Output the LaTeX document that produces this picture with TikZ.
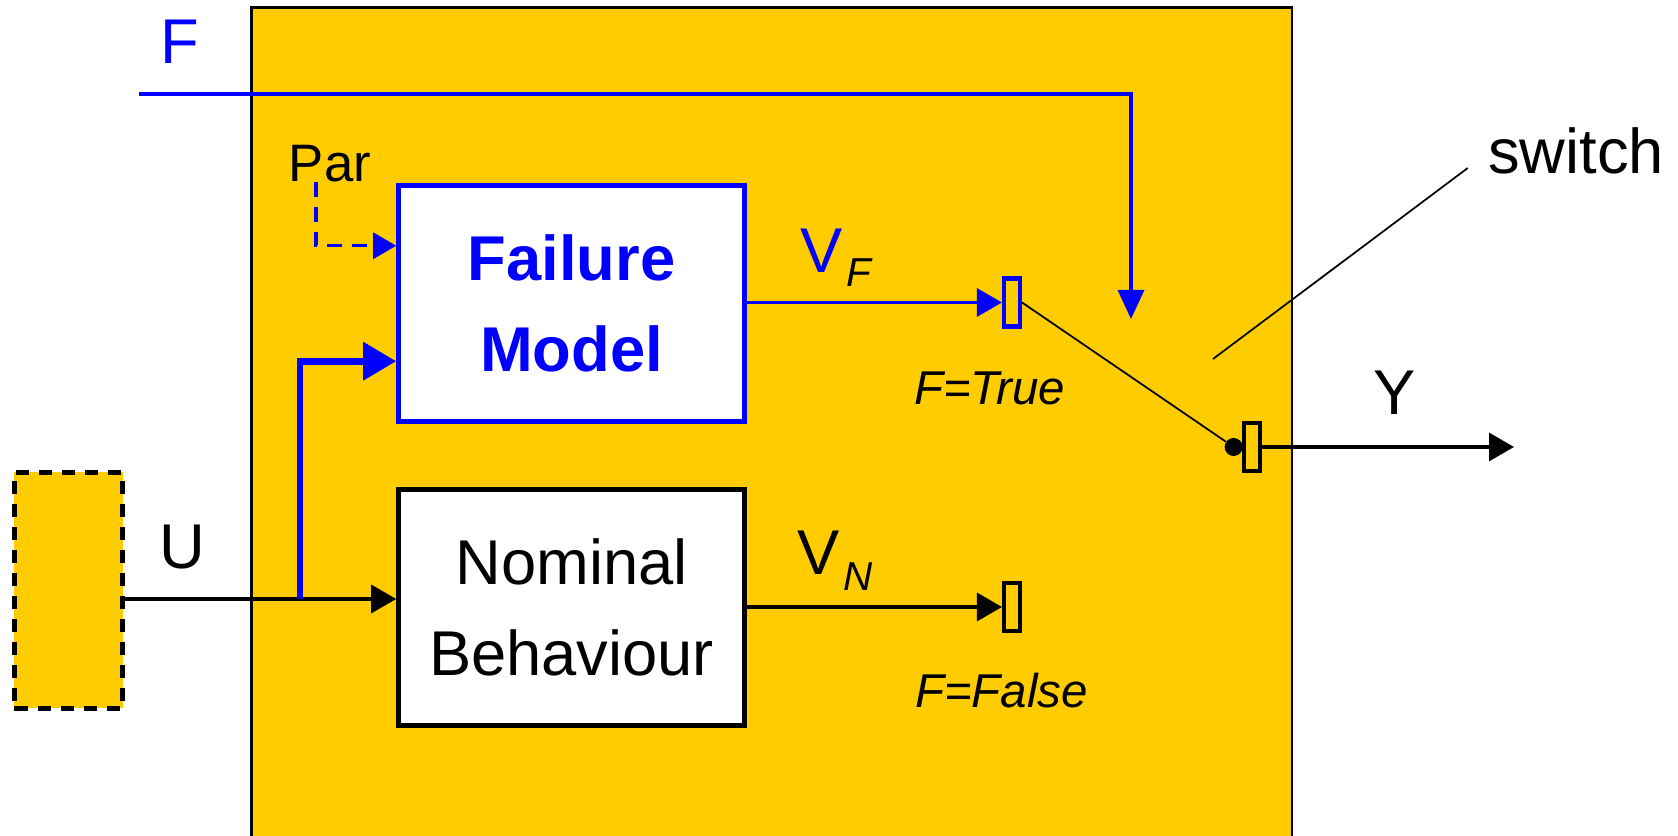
\documentclass[tikz,border=0pt]{standalone}
\usepackage{fontspec}
\setmainfont{Liberation Sans}
\usetikzlibrary{arrows.meta, positioning, calc}
\definecolor{sysyellow}{HTML}{FFCC00}
\definecolor{fblue}{HTML}{0000FF}

\begin{document}
\begin{tikzpicture}[
  >={Triangle[length=5mm, width=5.6mm]},
  block/.style={draw=#1, line width=2.6pt, fill=white, minimum width=69.2mm,
    minimum height=47.2mm, align=center, inner sep=0pt,
    font=\fontsize{36}{52}\selectfont},
  port/.style={draw=#1, line width=2.3pt, fill=sysyellow, minimum width=3.2mm,
    minimum height=9.6mm, inner sep=0pt},
  arr/.style={->, line width=1.9pt, draw=#1},
  lbl/.style={font=\fontsize{36}{40}\selectfont, anchor=base, inner sep=0pt},
  cond/.style={font=\fontsize{27}{30}\selectfont\itshape, anchor=base, inner sep=0pt},
]

% Page frame
\useasboundingbox (0,0) rectangle (33.56,16.72);

% System block (runs off the bottom)
\filldraw[fill=sysyellow, draw=black, line width=1.3pt]
  (5.03,0) |- (25.84,16.57) -- (25.84,0);

% === Source block (dashed) ===
\node[draw, line width=2.3pt, dash pattern=on 7.4pt off 5.7pt, fill=sysyellow,
  minimum width=21.6mm, minimum height=47.2mm, inner sep=0pt] (src) at (1.37,4.91) {};

% === Failure model and nominal behaviour ===
\node[block=fblue, text=fblue, font=\fontsize{36}{52}\selectfont\bfseries]
  (fm) at (11.43,10.65) {Failure\\Model};
\node[block=black] (nb) at (11.43,4.57) {Nominal\\Behaviour};

% === Ports ===
\node[port=fblue] (pF) at (20.24,10.67) {};
\node[port=black] (pN) at (20.24,4.58) {};
\node[port=black] (out) at (25.04,7.78) {};
\node[circle, fill=black, inner sep=0pt, minimum size=3.6mm, anchor=east]
  (dot) at ([xshift=0.02cm]out.west) {};

% Input U
\coordinate (uin) at (6.0,4.74);
\node[lbl] (ulbl) at (3.64,5.35) {U};
\draw[arr=black] (src.east |- uin) -- (nb.west |- uin);
\draw[arr=fblue, line width=3.8pt, >={Triangle[length=6.6mm, width=7.4mm]}]
  (uin) |- ($(fm.south west)!0.26!(fm.north west)$);

% Parameters
\node[lbl, font=\fontsize{30}{34}\selectfont] (par) at (6.6,13.08) {Par};
\draw[arr=fblue, dash pattern=on 8.5pt off 5.7pt, >={Triangle[length=4.6mm, width=5.2mm]}]
  ([xshift=-0.28cm]par.base) |- ($(fm.south west)!0.74!(fm.north west)$);

% Failure flag F
\node[lbl, text=fblue] (flbl) at (3.6,15.44) {F};
\coordinate (fstart) at (2.78,14.84);
\coordinate (ftip) at (22.62,10.34);
\draw[arr=fblue, line width=2pt, >={Triangle[length=5.8mm, width=5.2mm]}]
  (fstart) -| (ftip);

% === Outputs of the two blocks ===
\draw[arr=fblue] (fm.east |- pF) -- (pF.west);
\node[lbl, anchor=base west, text=fblue] (vf) at (16.0,11.26)
  {V\kern0.08cm\raisebox{-0.28cm}{\color{black}\fontsize{23}{26}\selectfont\itshape F}};
\draw[arr=black] (nb.east |- pN) -- (pN.west);
\node[lbl, anchor=base west] (vn) at (15.94,5.22)
  {V\kern0.08cm\raisebox{-0.32cm}{\fontsize{23}{26}\selectfont\itshape N}};

\node[cond] (ctrue) at (19.79,8.62) {F=True};
\node[cond] (cfalse) at (20.03,2.56) {F=False};

% === Switch ===
\draw[line width=1pt] (pF.east) -- (dot);
\node[lbl] (sw) at (31.52,13.24) {switch};
\coordinate (swpt) at (24.26,9.54);
\draw[line width=1pt] (swpt) -- ([shift={(-0.4,0.12)}]sw.base west);

% Output Y
\coordinate (yend) at (30.28,7.78);
\draw[arr=black] (out.east) -- (yend);
\node[lbl] (ylbl) at (27.9,8.42) {Y};

\end{tikzpicture}
\end{document}
